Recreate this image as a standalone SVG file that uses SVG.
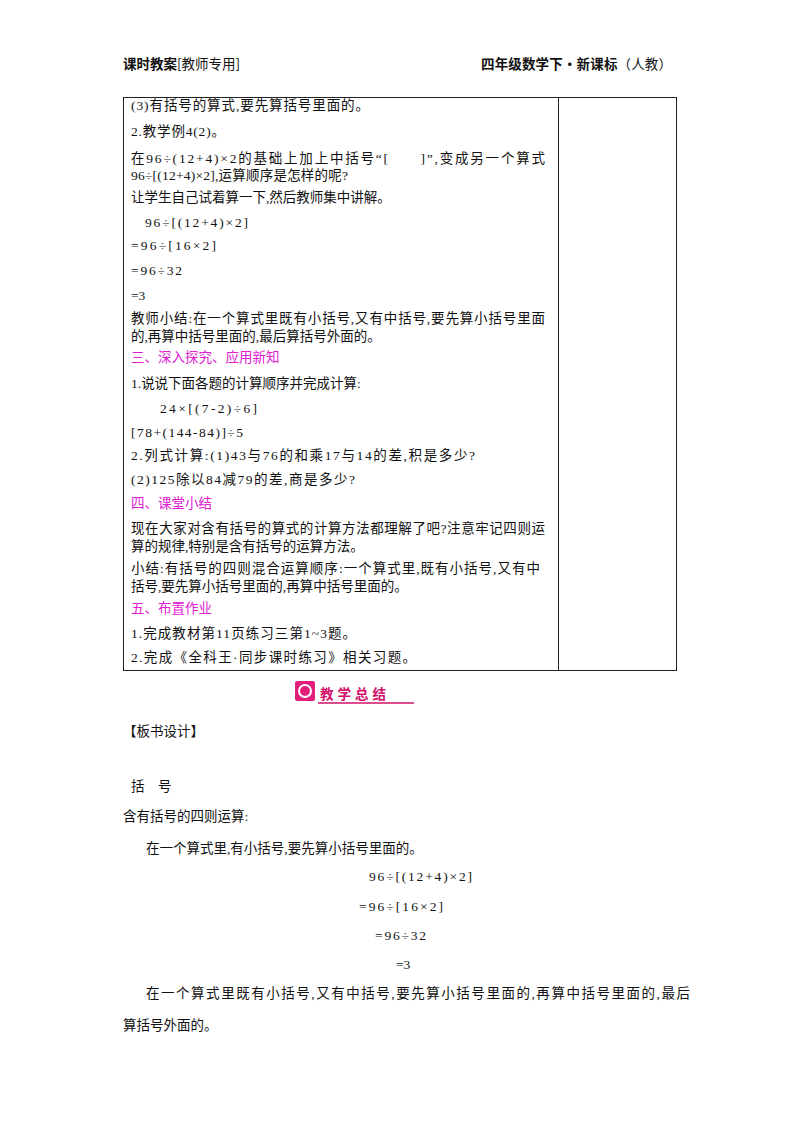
<svg xmlns="http://www.w3.org/2000/svg" width="800" height="1132" viewBox="0 0 800 1132">
<style>
text{font-family:"Liberation Serif","Noto Sans CJK SC",serif;font-size:13.5px;fill:#111}
.h{font-family:"Noto Sans CJK SC",sans-serif;font-size:13.5px;font-weight:bold}
.m{fill:#e020d0}
</style>
<rect width="800" height="1132" fill="#fff"/>
<g id="header">
<text class="h" x="123" y="69">课时教案<tspan font-weight="normal">[教师专用]</tspan></text>
<text class="h" x="481" y="69" textLength="191">四年级数学下·新课标<tspan font-weight="normal">（人教）</tspan></text>
</g>
<g id="table" fill="none" stroke="#222" stroke-width="1">
<rect x="123.5" y="97.5" width="553" height="573"/>
<line x1="558.5" y1="97.5" x2="558.5" y2="670.5"/>
</g>
<g id="content">
<text x="131" y="110" textLength="238">(3)有括号的算式,要先算括号里面的。</text>
<text x="131" y="136" textLength="94">2.教学例4(2)。</text>
<text x="131" y="163" textLength="414">在96÷(12+4)×2的基础上加上中括号“[　　]”,变成另一个算式</text>
<text x="131" y="180" textLength="217">96÷[(12+4)×2],运算顺序是怎样的呢?</text>
<text x="131" y="202">让学生自己试着算一下,然后教师集中讲解。</text>
<text x="145" y="227" textLength="103">96÷[(12+4)×2]</text>
<text x="131" y="250" textLength="85">=96÷[16×2]</text>
<text x="131" y="275" textLength="51">=96÷32</text>
<text x="131" y="300">=3</text>
<text x="131" y="323" textLength="414">教师小结:在一个算式里既有小括号,又有中括号,要先算小括号里面</text>
<text x="131" y="341">的,再算中括号里面的,最后算括号外面的。</text>
<text class="m" x="131" y="362">三、深入探究、应用新知</text>
<text x="131" y="388">1.说说下面各题的计算顺序并完成计算:</text>
<text x="160" y="413" textLength="97">24×[(7-2)÷6]</text>
<text x="131" y="437" textLength="112">[78+(144-84)]÷5</text>
<text x="131" y="460" textLength="344">2.列式计算:(1)43与76的和乘17与14的差,积是多少?</text>
<text x="131" y="484" textLength="224">(2)125除以84减79的差,商是多少?</text>
<text class="m" x="131" y="508">四、课堂小结</text>
<text x="131" y="533" textLength="414">现在大家对含有括号的算式的计算方法都理解了吧?注意牢记四则运</text>
<text x="131" y="551">算的规律,特别是含有括号的运算方法。</text>
<text x="131" y="573" textLength="409">小结:有括号的四则混合运算顺序:一个算式里,既有小括号,又有中</text>
<text x="131" y="591">括号,要先算小括号里面的,再算中括号里面的。</text>
<text class="m" x="131" y="613">五、布置作业</text>
<text x="131" y="638" textLength="225">1.完成教材第11页练习三第1~3题。</text>
<text x="131" y="662" textLength="285">2.完成《全科王·同步课时练习》相关习题。</text>
</g>
<g id="logo">
<rect x="295" y="681" width="20" height="20" rx="2" fill="#e0207a"/>
<circle cx="305" cy="691" r="6" fill="none" stroke="#fff" stroke-width="2"/>
<text x="320" y="699" font-family="Noto Sans CJK SC,sans-serif" font-weight="bold" font-size="18" style="fill:#d0106a" letter-spacing="4">教学总结</text>
<line x1="318" y1="703" x2="414" y2="703" stroke="#d0106a" stroke-width="1.5"/>
</g>
<g id="board">
<text x="123" y="736">【板书设计】</text>
<text x="131" y="791">括　号</text>
<text x="123" y="821">含有括号的四则运算:</text>
<text x="146" y="853">在一个算式里,有小括号,要先算小括号里面的。</text>
<text x="369" y="881" textLength="103">96÷[(12+4)×2]</text>
<text x="359" y="911" textLength="84">=96÷[16×2]</text>
<text x="375" y="940" textLength="51">=96÷32</text>
<text x="396" y="969">=3</text>
<text x="146" y="998" textLength="544">在一个算式里既有小括号,又有中括号,要先算小括号里面的,再算中括号里面的,最后</text>
<text x="123" y="1030">算括号外面的。</text>
</g>
</svg>
